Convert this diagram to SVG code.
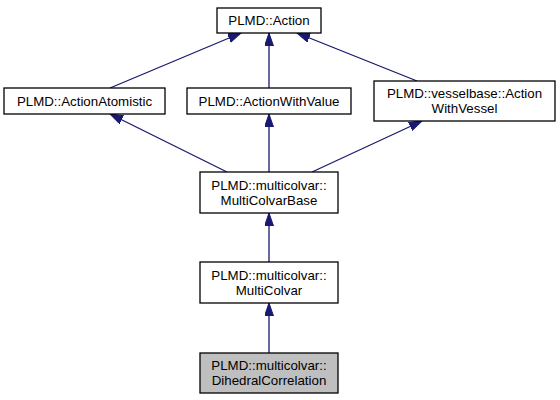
<svg xmlns="http://www.w3.org/2000/svg" width="560" height="400" viewBox="0 0 560 400">
<style>
  .box { fill: #ffffff; stroke: #000000; stroke-width: 1.3; }
  .sel { fill: #bfbfbf; stroke: #000000; stroke-width: 1.3; }
  .lbl { font-family: "Liberation Sans", Arial, sans-serif; font-size: 13.3px; fill: #000000; text-anchor: middle; }
  .edge { stroke: #191970; stroke-width: 1.3; fill: none; marker-end: url(#arr); }
</style>
<defs>
  <marker id="arr" markerUnits="userSpaceOnUse" markerWidth="14" markerHeight="10" refX="13" refY="4.5" orient="auto">
    <path d="M0,0 L13,4.5 L0,9 z" fill="#191970" stroke="#191970" stroke-width="1"/>
  </marker>
</defs>
<rect width="560" height="400" fill="#ffffff"/>
<g id="connectors">
  <line class="edge" x1="110" y1="88" x2="241" y2="33"/>
  <line class="edge" x1="269" y1="88" x2="269" y2="33"/>
  <line class="edge" x1="417" y1="81" x2="297" y2="33"/>
  <line class="edge" x1="227" y1="172" x2="110" y2="114"/>
  <line class="edge" x1="269" y1="172" x2="269" y2="114"/>
  <line class="edge" x1="312" y1="172" x2="422" y2="121"/>
  <line class="edge" x1="269" y1="262" x2="269" y2="213"/>
  <line class="edge" x1="269" y1="353" x2="269" y2="303"/>
</g>
<g id="action">
  <rect class="box" x="217" y="8" width="104" height="25"/>
  <text class="lbl" x="269" y="25">PLMD::Action</text>
</g>
<g id="actionatomistic">
  <rect class="box" x="4" y="88" width="161" height="26"/>
  <text class="lbl" x="84.5" y="105.5">PLMD::ActionAtomistic</text>
</g>
<g id="actionwithvalue">
  <rect class="box" x="187" y="88" width="164" height="26"/>
  <text class="lbl" x="269" y="105.5">PLMD::ActionWithValue</text>
</g>
<g id="actionwithvessel">
  <rect class="box" x="374" y="81" width="181" height="40"/>
  <text class="lbl" x="464.5" y="98">PLMD::vesselbase::Action</text>
  <text class="lbl" x="464.5" y="113">WithVessel</text>
</g>
<g id="multicolvarbase">
  <rect class="box" x="200" y="172" width="138" height="41"/>
  <text class="lbl" x="269" y="189.5">PLMD::multicolvar::</text>
  <text class="lbl" x="269" y="204.5">MultiColvarBase</text>
</g>
<g id="multicolvar">
  <rect class="box" x="200" y="262" width="138" height="41"/>
  <text class="lbl" x="269" y="279.5">PLMD::multicolvar::</text>
  <text class="lbl" x="269" y="294.5">MultiColvar</text>
</g>
<g id="dihedralcorrelation">
  <rect class="sel" x="200" y="353" width="138" height="40"/>
  <text class="lbl" x="269" y="370">PLMD::multicolvar::</text>
  <text class="lbl" x="269" y="385">DihedralCorrelation</text>
</g>
</svg>
